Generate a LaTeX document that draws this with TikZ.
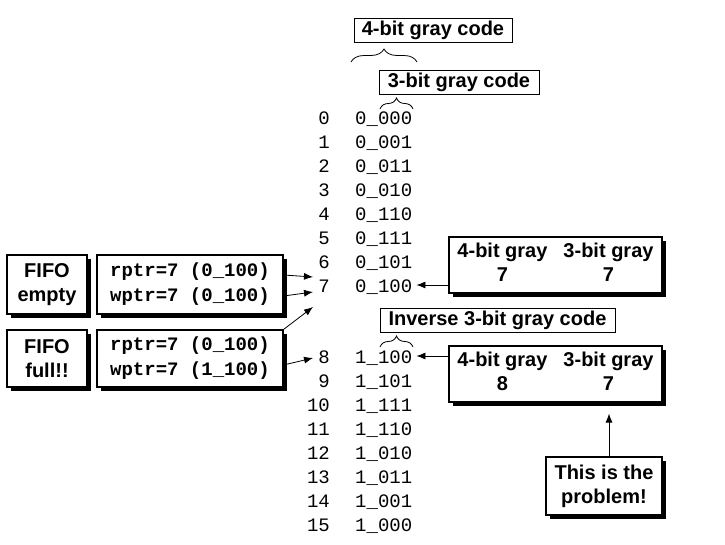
\documentclass[tikz,border=0pt]{standalone}
\usepackage{fontspec}
\setmainfont{Liberation Sans}
\newfontfamily\codefont{Liberation Mono}
\usetikzlibrary{arrows.meta,shadows,decorations.pathreplacing,positioning}

\tikzset{
  tag/.style={draw, fill=white, line width=1pt, inner sep=0pt,
    font=\bfseries\fontsize{20}{23}\selectfont},
  shbox/.style={draw, fill=white, line width=1.2pt, inner sep=0pt, align=center,
    drop shadow={shadow xshift=4pt, shadow yshift=-4pt, fill=black, opacity=1},
    font=\bfseries\fontsize{20}{24}\selectfont},
  ptrbox/.style={shbox, align=left, font=\codefont\bfseries\fontsize{19}{25}\selectfont},
  num/.style={inner sep=0pt, font=\codefont\fontsize{19}{24}\selectfont},
  arr/.style={-{Latex[length=9pt,width=7pt]}, line width=0.8pt},
  brc/.style={decorate, decoration={brace, amplitude=#1}, line width=0.8pt}
}

\begin{document}
\begin{tikzpicture}[x=1pt, y=-1pt]
\fill[white] (0,0) rectangle (725,544);
\useasboundingbox (0,0) rectangle (725,544);

% gray code table
\foreach \i/\c in {0/0\_000, 1/0\_001, 2/0\_011, 3/0\_010, 4/0\_110, 5/0\_111, 6/0\_101, 7/0\_100,
                   8/1\_100, 9/1\_101, 10/1\_111, 11/1\_110, 12/1\_010, 13/1\_011, 14/1\_001, 15/1\_000} {
  \pgfmathsetmacro\yy{\i<8 ? 124+24*\i : 363+24*(\i-8)}
  \node[num, anchor=base east] (n\i) at (330,\yy) {\i};
  \node[num, anchor=base west] (c\i) at (355,\yy) {\c};
}

% code labels and braces
\node[tag, minimum width=158pt, minimum height=24pt] (gray4) at (433,30) {4-bit gray code};
\node[tag, minimum width=160pt, minimum height=24pt] (gray3) at (459,82) {3-bit gray code};
\node[tag, minimum width=235pt, minimum height=24pt] (inv3) at (497.5,320) {Inverse 3-bit gray code};
\draw[brc=13pt] (351,62) -- (417,62);
\draw[brc=11pt] (380,109) -- (413,109);
\draw[brc=11pt] (380,347) -- (413,347);

% FIFO state boxes
\node[shbox, minimum width=80pt, minimum height=59pt] (fifoe) at (47,284.5) {FIFO\\empty};
\node[ptrbox, minimum width=186pt, minimum height=59pt] (ptre) at (190,284.5) {rptr=7 (0\_100)\\wptr=7 (0\_100)};
\node[shbox, minimum width=80pt, minimum height=57pt] (fifof) at (47,358.5) {FIFO\\full!!};
\node[ptrbox, minimum width=186pt, minimum height=57pt] (ptrf) at (190,358.5) {rptr=7 (0\_100)\\wptr=7 (1\_100)};

% comparison boxes
\node[shbox, minimum width=213pt, minimum height=56pt] (box7) at (555.5,265)
  {\begin{tabular}{@{}c@{\hspace{16pt}}c@{}}4-bit gray & 3-bit gray\\ 7 & 7\end{tabular}};
\node[shbox, minimum width=213pt, minimum height=56pt] (box8) at (555.5,374)
  {\begin{tabular}{@{}c@{\hspace{16pt}}c@{}}4-bit gray & 3-bit gray\\ 8 & 7\end{tabular}};
\node[shbox, minimum width=116pt, minimum height=58pt] (prob) at (604,486) {This is the\\problem!};

% pointer arrows
\coordinate (rin) at (313,277);
\coordinate (win) at (313,292);
\coordinate (fin) at (313,307);
\coordinate (wfin) at (313,358);
\draw[arr] ([yshift=9.5pt]ptre.east) -- (rin);
\draw[arr] ([yshift=-11.5pt]ptre.east) -- (win);
\draw[arr] (ptrf.north east) -- (fin);
\draw[arr] ([yshift=-6.5pt]ptrf.east) -- (wfin);
\draw[arr] (box7.west |- c7.base east) ++(0,-7) -- ([xshift=4pt,yshift=7pt]c7.base east);
\draw[arr] (box8.west |- c8.base east) ++(0,-7) -- ([xshift=4pt,yshift=7pt]c8.base east);
\draw[arr, shorten >=11pt] ([xshift=5pt]prob.north) -- ([xshift=5pt]prob.north |- box8.south);
\end{tikzpicture}
\end{document}
